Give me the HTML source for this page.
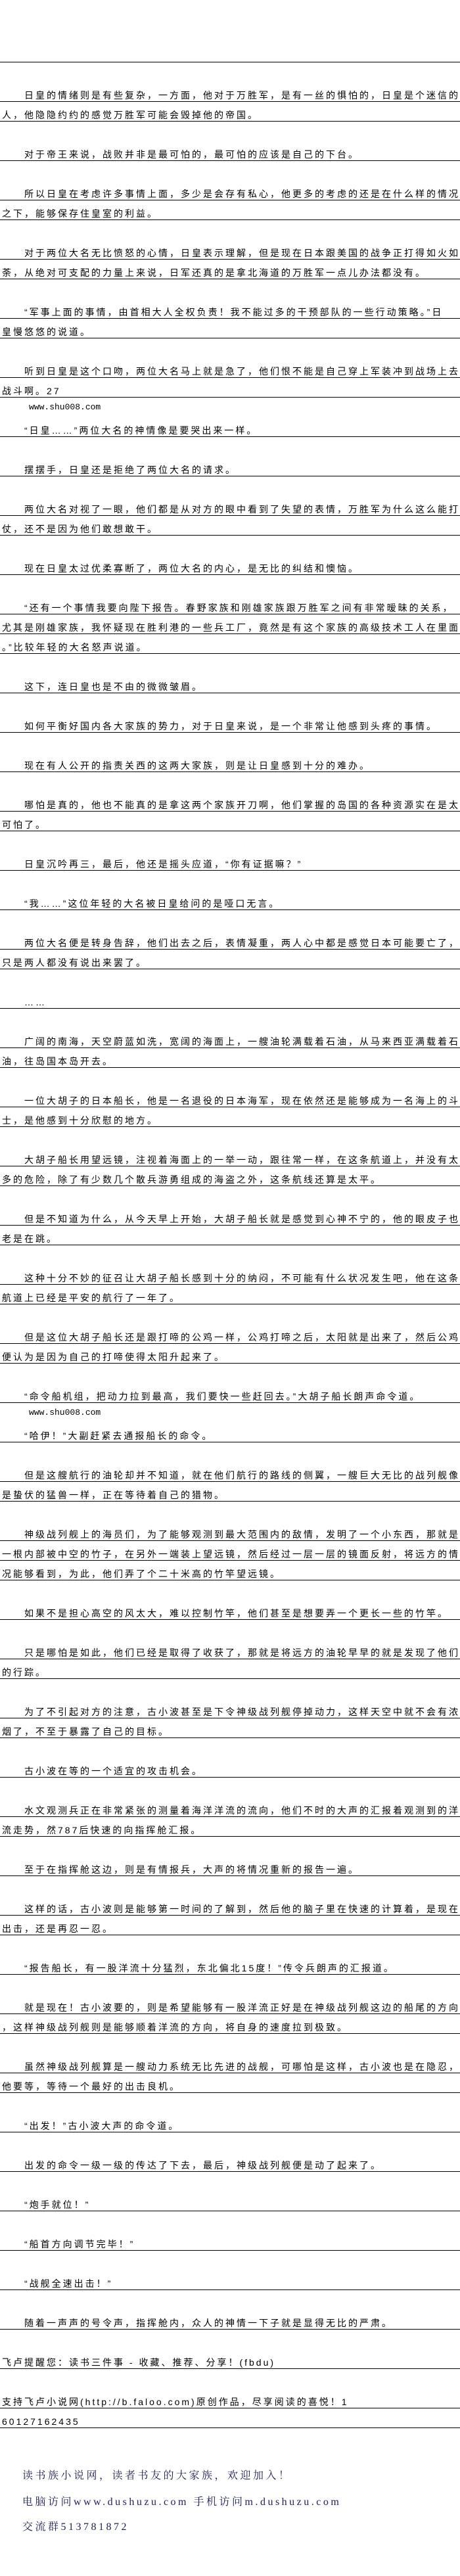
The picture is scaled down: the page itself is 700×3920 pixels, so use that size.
<!DOCTYPE html>
<html><head><meta charset="utf-8">
<style>
html,body{margin:0;padding:0;background:#fff;}
body{width:700px;height:3920px;position:relative;overflow:hidden;}
#c{position:absolute;left:0;top:5px;width:700px;}
.r,.b,.w{height:30px;box-sizing:border-box;white-space:nowrap;overflow:hidden;}
.r{border-bottom:1px solid #000;padding:12px 0 0 3px;line-height:16px;
 font-family:"Liberation Sans","Noto Sans CJK SC",sans-serif;font-size:14px;letter-spacing:3px;color:#000;}
.w{padding:8px 0 0 44px;font-family:"Liberation Mono",monospace;font-size:13px;line-height:14px;color:#000;}
.f{position:absolute;left:34px;font-family:"Liberation Serif","Noto Serif CJK SC",serif;font-size:16px;letter-spacing:3.5px;color:#1c2050;white-space:nowrap;}
</style></head><body>
<div id="c">
<div class="b"></div><div class="b"></div>
<div class="r"></div>
<div class="b"></div>
<div class="r">　　日皇的情绪则是有些复杂，一方面，他对于万胜军，是有一丝的惧怕的，日皇是个迷信的</div>
<div class="r">人，他隐隐约约的感觉万胜军可能会毁掉他的帝国。</div>
<div class="b"></div>
<div class="r">　　对于帝王来说，战败并非是最可怕的，最可怕的应该是自己的下台。</div>
<div class="b"></div>
<div class="r">　　所以日皇在考虑许多事情上面，多少是会存有私心，他更多的考虑的还是在什么样的情况</div>
<div class="r">之下，能够保存住皇室的利益。</div>
<div class="b"></div>
<div class="r">　　对于两位大名无比愤怒的心情，日皇表示理解，但是现在日本跟美国的战争正打得如火如</div>
<div class="r">荼，从绝对可支配的力量上来说，日军还真的是拿北海道的万胜军一点儿办法都没有。</div>
<div class="b"></div>
<div class="r">　　“军事上面的事情，由首相大人全权负责！我不能过多的干预部队的一些行动策略。”日</div>
<div class="r">皇慢悠悠的说道。</div>
<div class="b"></div>
<div class="r">　　听到日皇是这个口吻，两位大名马上就是急了，他们恨不能是自己穿上军装冲到战场上去</div>
<div class="r">战斗啊。27</div>
<div class="w">www.shu008.com</div>
<div class="r">　　“日皇……”两位大名的神情像是要哭出来一样。</div>
<div class="b"></div>
<div class="r">　　摆摆手，日皇还是拒绝了两位大名的请求。</div>
<div class="b"></div>
<div class="r">　　两位大名对视了一眼，他们都是从对方的眼中看到了失望的表情，万胜军为什么这么能打</div>
<div class="r">仗，还不是因为他们敢想敢干。</div>
<div class="b"></div>
<div class="r">　　现在日皇太过优柔寡断了，两位大名的内心，是无比的纠结和懊恼。</div>
<div class="b"></div>
<div class="r">　　“还有一个事情我要向陛下报告。春野家族和刚雄家族跟万胜军之间有非常暧昧的关系，</div>
<div class="r">尤其是刚雄家族，我怀疑现在胜利港的一些兵工厂，竟然是有这个家族的高级技术工人在里面</div>
<div class="r">。”比较年轻的大名怒声说道。</div>
<div class="b"></div>
<div class="r">　　这下，连日皇也是不由的微微皱眉。</div>
<div class="b"></div>
<div class="r">　　如何平衡好国内各大家族的势力，对于日皇来说，是一个非常让他感到头疼的事情。</div>
<div class="b"></div>
<div class="r">　　现在有人公开的指责关西的这两大家族，则是让日皇感到十分的难办。</div>
<div class="b"></div>
<div class="r">　　哪怕是真的，他也不能真的是拿这两个家族开刀啊，他们掌握的岛国的各种资源实在是太</div>
<div class="r">可怕了。</div>
<div class="b"></div>
<div class="r">　　日皇沉吟再三，最后，他还是摇头应道，“你有证据嘛？”</div>
<div class="b"></div>
<div class="r">　　“我……”这位年轻的大名被日皇给问的是哑口无言。</div>
<div class="b"></div>
<div class="r">　　两位大名便是转身告辞，他们出去之后，表情凝重，两人心中都是感觉日本可能要亡了，</div>
<div class="r">只是两人都没有说出来罢了。</div>
<div class="b"></div>
<div class="r">　　……</div>
<div class="b"></div>
<div class="r">　　广阔的南海，天空蔚蓝如洗，宽阔的海面上，一艘油轮满载着石油，从马来西亚满载着石</div>
<div class="r">油，往岛国本岛开去。</div>
<div class="b"></div>
<div class="r">　　一位大胡子的日本船长，他是一名退役的日本海军，现在依然还是能够成为一名海上的斗</div>
<div class="r">士，是他感到十分欣慰的地方。</div>
<div class="b"></div>
<div class="r">　　大胡子船长用望远镜，注视着海面上的一举一动，跟往常一样，在这条航道上，并没有太</div>
<div class="r">多的危险，除了有少数几个散兵游勇组成的海盗之外，这条航线还算是太平。</div>
<div class="b"></div>
<div class="r">　　但是不知道为什么，从今天早上开始，大胡子船长就是感觉到心神不宁的，他的眼皮子也</div>
<div class="r">老是在跳。</div>
<div class="b"></div>
<div class="r">　　这种十分不妙的征召让大胡子船长感到十分的纳闷，不可能有什么状况发生吧，他在这条</div>
<div class="r">航道上已经是平安的航行了一年了。</div>
<div class="b"></div>
<div class="r">　　但是这位大胡子船长还是跟打啼的公鸡一样，公鸡打啼之后，太阳就是出来了，然后公鸡</div>
<div class="r">便认为是因为自己的打啼使得太阳升起来了。</div>
<div class="b"></div>
<div class="r">　　“命令船机组，把动力拉到最高，我们要快一些赶回去。”大胡子船长朗声命令道。</div>
<div class="w">www.shu008.com</div>
<div class="r">　　“哈伊！”大副赶紧去通报船长的命令。</div>
<div class="b"></div>
<div class="r">　　但是这艘航行的油轮却并不知道，就在他们航行的路线的侧翼，一艘巨大无比的战列舰像</div>
<div class="r">是蛰伏的猛兽一样，正在等待着自己的猎物。</div>
<div class="b"></div>
<div class="r">　　神级战列舰上的海员们，为了能够观测到最大范围内的敌情，发明了一个小东西，那就是</div>
<div class="r">一根内部被中空的竹子，在另外一端装上望远镜，然后经过一层一层的镜面反射，将远方的情</div>
<div class="r">况能够看到，为此，他们弄了个二十米高的竹竿望远镜。</div>
<div class="b"></div>
<div class="r">　　如果不是担心高空的风太大，难以控制竹竿，他们甚至是想要弄一个更长一些的竹竿。</div>
<div class="b"></div>
<div class="r">　　只是哪怕是如此，他们已经是取得了收获了，那就是将远方的油轮早早的就是发现了他们</div>
<div class="r">的行踪。</div>
<div class="b"></div>
<div class="r">　　为了不引起对方的注意，古小波甚至是下令神级战列舰停掉动力，这样天空中就不会有浓</div>
<div class="r">烟了，不至于暴露了自己的目标。</div>
<div class="b"></div>
<div class="r">　　古小波在等的一个适宜的攻击机会。</div>
<div class="b"></div>
<div class="r">　　水文观测兵正在非常紧张的测量着海洋洋流的流向，他们不时的大声的汇报着观测到的洋</div>
<div class="r">流走势，然787后快速的向指挥舱汇报。</div>
<div class="b"></div>
<div class="r">　　至于在指挥舱这边，则是有情报兵，大声的将情况重新的报告一遍。</div>
<div class="b"></div>
<div class="r">　　这样的话，古小波则是能够第一时间的了解到，然后他的脑子里在快速的计算着，是现在</div>
<div class="r">出击，还是再忍一忍。</div>
<div class="b"></div>
<div class="r">　　“报告船长，有一股洋流十分猛烈，东北偏北15度！”传令兵朗声的汇报道。</div>
<div class="b"></div>
<div class="r">　　就是现在！古小波要的，则是希望能够有一股洋流正好是在神级战列舰这边的船尾的方向</div>
<div class="r">，这样神级战列舰则是能够顺着洋流的方向，将自身的速度拉到极致。</div>
<div class="b"></div>
<div class="r">　　虽然神级战列舰算是一艘动力系统无比先进的战舰，可哪怕是这样，古小波也是在隐忍，</div>
<div class="r">他要等，等待一个最好的出击良机。</div>
<div class="b"></div>
<div class="r">　　“出发！”古小波大声的命令道。</div>
<div class="b"></div>
<div class="r">　　出发的命令一级一级的传达了下去，最后，神级战列舰便是动了起来了。</div>
<div class="b"></div>
<div class="r">　　“炮手就位！”</div>
<div class="b"></div>
<div class="r">　　“船首方向调节完毕！”</div>
<div class="b"></div>
<div class="r">　　“战舰全速出击！”</div>
<div class="b"></div>
<div class="r">　　随着一声声的号令声，指挥舱内，众人的神情一下子就是显得无比的严肃。</div>
<div class="b"></div>
<div class="r">飞卢提醒您：读书三件事 - 收藏、推荐、分享！(fbdu)</div>
<div class="b"></div>
<div class="r">支持飞卢小说网(http://b.faloo.com)原创作品，尽享阅读的喜悦！1</div>
<div class="r">60127162435</div>
</div>
<div class="f" style="top:3754px;">读书族小说网，读者书友的大家族，欢迎加入！</div>
<div class="f" style="top:3794px;">电脑访问www.dushuzu.com 手机访问m.dushuzu.com</div>
<div class="f" style="top:3832px;">交流群513781872</div>
</body></html>
